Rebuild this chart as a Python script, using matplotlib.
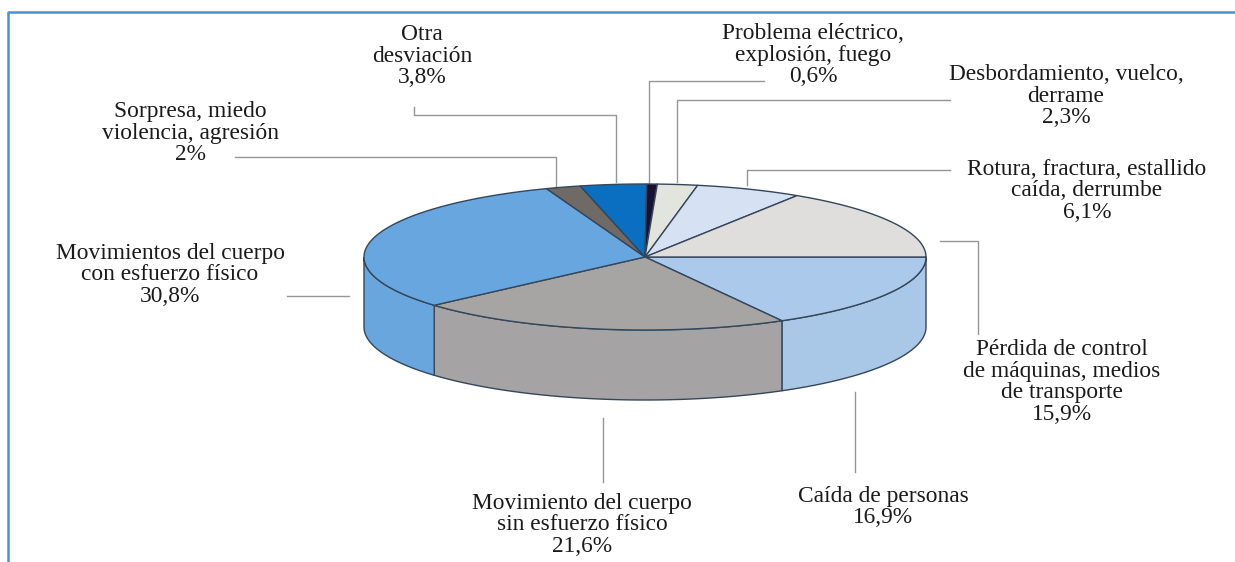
import numpy as np
import matplotlib
matplotlib.use("Agg")
import matplotlib.pyplot as plt
from matplotlib.patches import Polygon

plt.rcParams['font.family'] = ['Liberation Serif', 'DejaVu Serif']

# clockwise from the east edge of the pie
values = [16.9, 21.6, 30.8, 2.0, 3.8, 0.6, 2.3, 6.1, 15.9]
top_colors = ['#abc9ea', '#a7a5a4', '#68a6e0', '#6f6a66', '#0a6fc0', '#1c1030', '#e2e4de', '#d6e2f3', '#dfdedd']
side_colors = ['#a9c8e8', '#a5a3a3', '#6aa6de']

labels = [
    "Caída de personas\n16,9%",
    "Movimiento del cuerpo\nsin esfuerzo físico\n21,6%",
    "Movimientos del cuerpo\ncon esfuerzo físico\n30,8%",
    "Sorpresa, miedo\nviolencia, agresión\n2%",
    "Otra\ndesviación\n3,8%",
    "Problema eléctrico,\nexplosión, fuego\n0,6%",
    "Desbordamiento, vuelco,\nderrame\n2,3%",
    "Rotura, fractura, estallido\ncaída, derrumbe\n6,1%",
    "Pérdida de control\nde máquinas, medios\nde transporte\n15,9%",
]
label_pos = [(883, 507), (582, 525), (170, 275), (190, 133), (422, 56), (813, 55), (1066, 96), (1087, 191), (1062, 382)]

leaders = [
    ([855, 855], [392, 472]),
    ([603, 603], [418, 482]),
    ([287, 349], [296, 296]),
    ([235, 556, 556], [157, 157, 186]),
    ([414, 414, 616, 616], [107, 115, 115, 182]),
    ([764, 649, 649], [81, 81, 184]),
    ([950, 677, 677], [100, 100, 182]),
    ([950, 747, 747], [170, 170, 185]),
    ([940, 978, 978], [241, 241, 334]),
]

cx, cy, rx, ry, depth = 645, 257, 281, 73, 70
edge = '#34465a'

fig = plt.figure(figsize=(12.35, 5.62), dpi=100)
ax = fig.add_axes([0, 0, 1, 1])
ax.set_xlim(0, 1235)
ax.set_ylim(562, 0)
ax.axis('off')


def rim(a0, a1, dy=0):
    t = np.radians(np.linspace(a0, a1, 120))
    return np.column_stack([cx + rx * np.cos(t), cy + ry * np.sin(t) + dy])


angles = np.concatenate([[0], np.cumsum(values)]) * 3.6

# side wall, only the front half shows
for i, col in enumerate(side_colors):
    a0, a1 = angles[i], min(angles[i + 1], 180)
    pts = np.vstack([rim(a0, a1), rim(a0, a1, depth)[::-1]])
    ax.add_patch(Polygon(pts, closed=True, fc=col, ec=edge, lw=1.0, zorder=2))

# top face
for i, col in enumerate(top_colors):
    pts = np.vstack([[cx, cy], rim(angles[i], angles[i + 1])])
    ax.add_patch(Polygon(pts, closed=True, fc=col, ec=edge, lw=1.0, zorder=3))

for xs, ys in leaders:
    ax.plot(xs, ys, color='#969696', lw=1.0, zorder=1)

for txt, (x, y) in zip(labels, label_pos):
    ax.text(x, y, txt, ha='center', va='center', fontsize=16.8, color='#1a1a1a',
            linespacing=1.03, zorder=5)

# blue frame, only top and left sides
ax.plot([8, 8, 1235], [562, 12, 12], color='#4a92d2', lw=1.8, zorder=6)

fig.savefig("out.png", dpi=100)
